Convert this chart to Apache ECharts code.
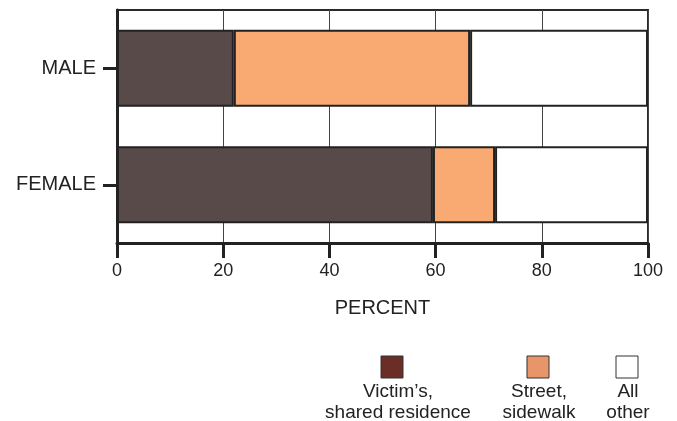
<!DOCTYPE html>
<html>
<head>
<meta charset="utf-8">
<script src="https://cdn.jsdelivr.net/npm/echarts@6/dist/echarts.min.js"></script>
<style>
html,body{margin:0;padding:0;background:#fff;}
#chart{width:677px;height:421px;}
</style>
</head>
<body>
<div id="chart"></div>
<script>
var categories = ['MALE', 'FEMALE'];
var victimResidence = [22, 59.5];
var streetSidewalk = [44.5, 11.7];
var allOther = [33.5, 28.8];
var xTicks = [0, 20, 40, 60, 80, 100];
var seriesNames = ['Victim\u2019s,\nshared residence', 'Street,\nsidewalk', 'All\nother'];

var FONT = '"Liberation Sans", Arial, sans-serif';
var barColors = ['#594a4a', '#f8aa72', '#ffffff'];
var legendColors = ['#6b2e26', '#e8956a', '#ffffff'];
var legendX = [392, 538, 627];

var chart = echarts.init(document.getElementById('chart'));

var legendGraphics = [];
seriesNames.forEach(function (name, i) {
  legendGraphics.push({
    type: 'rect',
    shape: { x: legendX[i] - 11, y: 356, width: 22, height: 22 },
    style: { fill: legendColors[i], stroke: '#333', lineWidth: 1 }
  });
  legendGraphics.push({
    type: 'text',
    x: legendX[i] + (i === 0 ? 6 : 1),
    y: 381,
    style: {
      text: name,
      fill: '#222',
      font: '19px ' + FONT,
      align: 'center',
      verticalAlign: 'top',
      lineHeight: 21
    }
  });
});

function mkSeries(name, data, color) {
  return {
    name: name,
    type: 'bar',
    stack: 'total',
    data: data,
    barWidth: '66%',
    itemStyle: { color: color, borderColor: '#222', borderWidth: 2 },
    silent: true
  };
}

chart.setOption({
  animation: false,
  textStyle: { fontFamily: FONT },
  grid: {
    left: 117, right: 29, top: 10, bottom: 178,
    show: true, borderColor: '#2a2a2a', borderWidth: 2, backgroundColor: 'transparent'
  },
  xAxis: {
    type: 'value',
    min: 0, max: 100, interval: 20,
    name: 'PERCENT',
    nameLocation: 'middle',
    nameGap: 55,
    nameTextStyle: { fontSize: 20, color: '#222', fontFamily: FONT },
    axisLine: { show: true, lineStyle: { color: '#222', width: 3 } },
    axisTick: { show: true, length: 15, lineStyle: { color: '#222', width: 3 } },
    axisLabel: {
      margin: 19, fontSize: 18, color: '#222', fontFamily: FONT,
      formatter: function (v) { return xTicks.indexOf(v) >= 0 ? String(v) : ''; }
    },
    splitLine: { show: true, lineStyle: { color: '#444', width: 1 } }
  },
  yAxis: {
    type: 'category',
    data: categories,
    inverse: true,
    axisLine: { show: true, lineStyle: { color: '#222', width: 3 } },
    axisTick: { show: true, alignWithLabel: true, length: 14, lineStyle: { color: '#222', width: 3 } },
    axisLabel: { margin: 21, fontSize: 20, color: '#222', fontFamily: FONT },
    splitLine: { show: false }
  },
  series: [
    mkSeries(seriesNames[0], victimResidence, barColors[0]),
    mkSeries(seriesNames[1], streetSidewalk, barColors[1]),
    mkSeries(seriesNames[2], allOther, barColors[2])
  ],
  graphic: legendGraphics
});
</script>
</body>
</html>
